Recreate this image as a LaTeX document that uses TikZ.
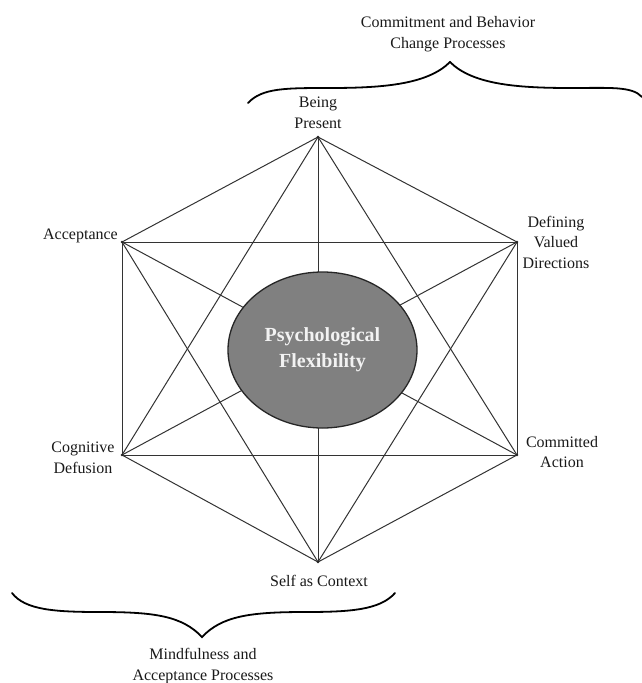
\documentclass[tikz,border=0pt]{standalone}
\usepackage{fontspec}
\setmainfont{Liberation Serif}
\usetikzlibrary{shapes.geometric}
\begin{document}
\begin{tikzpicture}[x=1pt,y=-1pt,
  lbl/.style={font=\fontsize{16}{20.5}\selectfont, text=black!90, align=center, inner sep=0pt},
  edge/.style={draw=black!80, line width=1pt},
  brace/.style={draw=black, line width=1.8pt, line cap=round},
  core/.style={ellipse, draw=black!85, line width=1.3pt, fill=black!50, minimum width=189pt, minimum height=156pt, inner sep=0pt, text=black!5, font=\fontsize{20}{26}\selectfont\bfseries, align=center}]
\useasboundingbox (0,0) rectangle (642,683);
% vertices
\coordinate (T) at (318,137);
\coordinate (UR) at (517,242);
\coordinate (LR) at (517,455);
\coordinate (B) at (318,562);
\coordinate (LL) at (122,455);
\coordinate (UL) at (122,242);
% all connections (complete graph)
\foreach \a/\b in {T/UR,T/LR,T/B,T/LL,T/UL,UR/LR,UR/B,UR/LL,UR/UL,LR/B,LR/LL,LR/UL,B/LL,B/UL,LL/UL}
  \draw[edge] (\a) -- (\b);
\foreach \v in {T,UR,LR,B,LL,UL} \fill[black!85] (\v) circle (1.3pt);
% center
\node[core] (pf) at (322.5,350) {Psychological\\Flexibility};
% labels
\node[lbl] (lbp) at (318,113) {Being\\Present};
\node[lbl, anchor=east] (lacc) at (118,236) {Acceptance};
\node[lbl] (ldvd) at (556,242) {Defining\\Valued\\Directions};
\node[lbl] (lca) at (562,452) {Committed\\Action};
\node[lbl] (lcd) at (83,458) {Cognitive\\Defusion};
\node[lbl] (lsc) at (319,581) {Self as Context};
\node[lbl] (ltop) at (448,34) {Commitment and Behavior\\Change Processes};
\node[lbl] (lbot) at (203,666) {Mindfulness and\\Acceptance Processes};
% braces
\draw[brace] (248,103) .. controls (262,88) and (285,88) .. (330,88)
  .. controls (385,88) and (428,84) .. (450,62)
  .. controls (472,84) and (515,88) .. (570,88)
  .. controls (610,88) and (632,86) .. (642,97);
\draw[brace] (12,593) .. controls (25,610) and (55,612) .. (100,612)
  .. controls (155,612) and (182,616) .. (202,637)
  .. controls (222,616) and (250,612) .. (305,612)
  .. controls (350,612) and (380,610) .. (395,593);
\end{tikzpicture}
\end{document}
